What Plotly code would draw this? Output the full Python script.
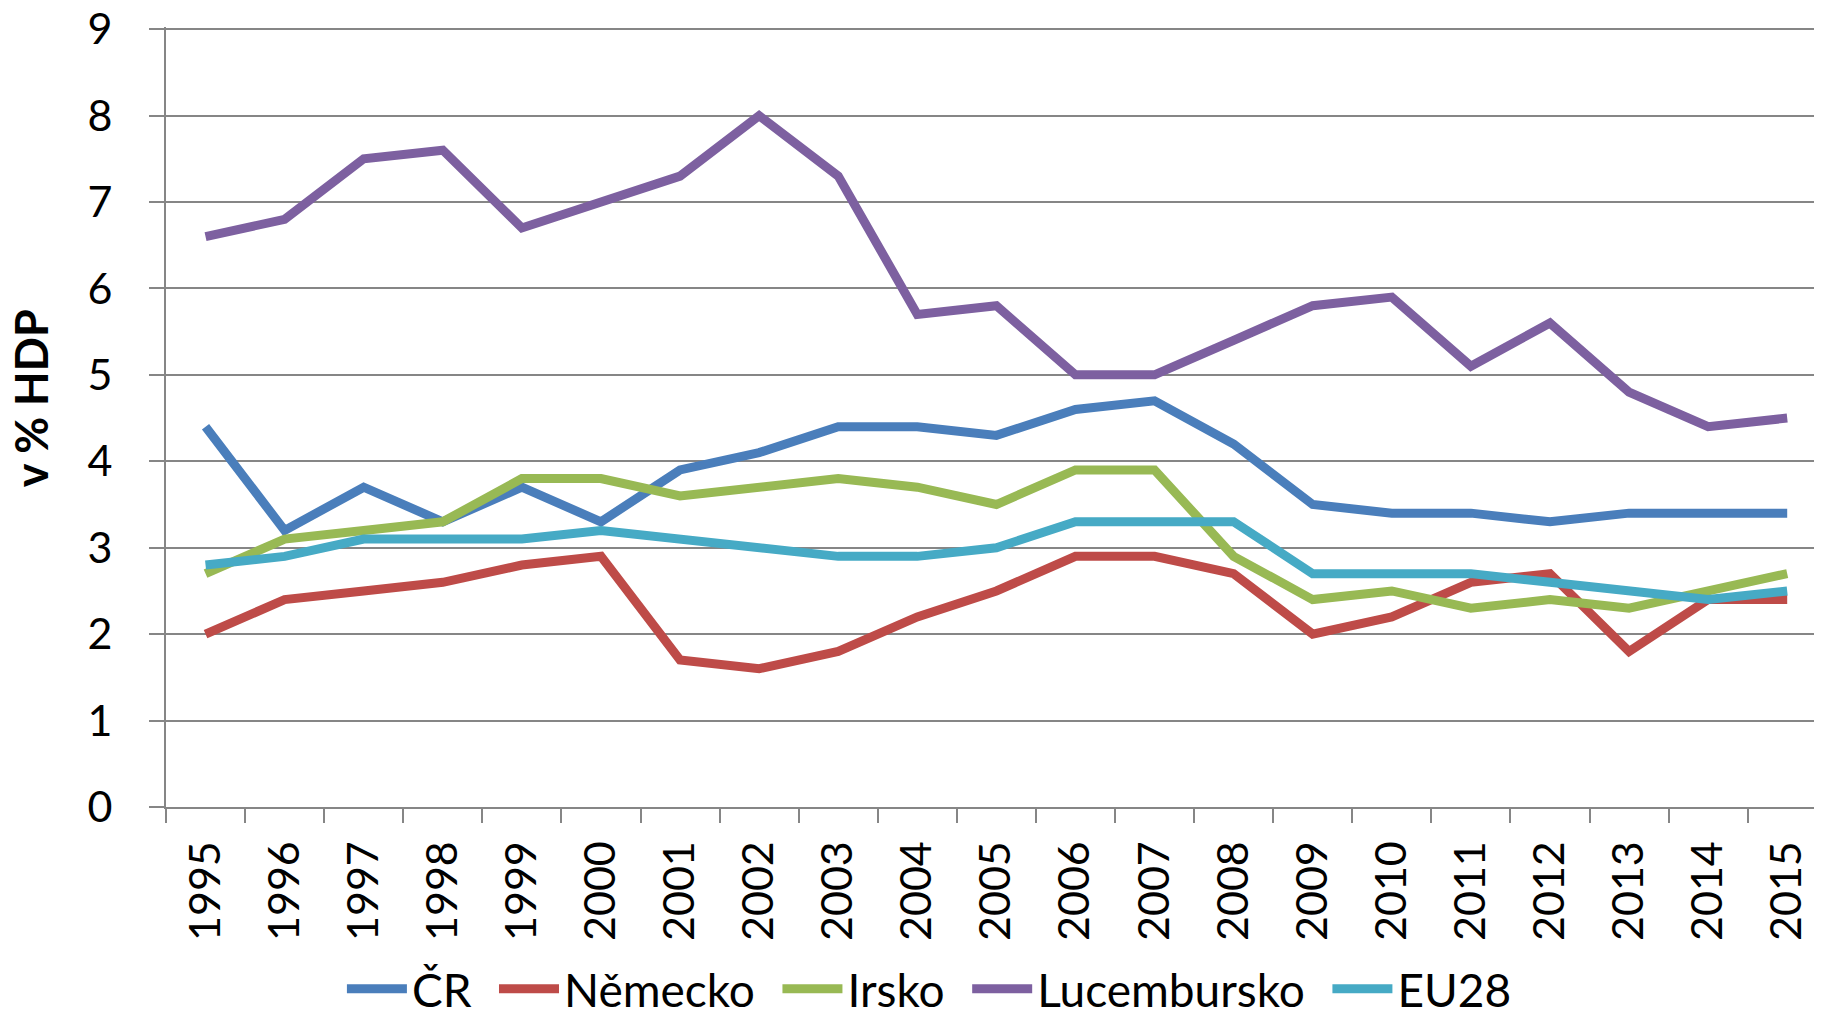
import plotly.graph_objects as go

years = [str(y) for y in range(1995, 2016)]
cr = [4.4, 3.2, 3.7, 3.3, 3.7, 3.3, 3.9, 4.1, 4.4, 4.4, 4.3, 4.6, 4.7, 4.2, 3.5, 3.4, 3.4, 3.3, 3.4, 3.4, 3.4]
nemecko = [2.0, 2.4, 2.5, 2.6, 2.8, 2.9, 1.7, 1.6, 1.8, 2.2, 2.5, 2.9, 2.9, 2.7, 2.0, 2.2, 2.6, 2.7, 1.8, 2.4, 2.4]
irsko = [2.7, 3.1, 3.2, 3.3, 3.8, 3.8, 3.6, 3.7, 3.8, 3.7, 3.5, 3.9, 3.9, 2.9, 2.4, 2.5, 2.3, 2.4, 2.3, 2.5, 2.7]
lucembursko = [6.6, 6.8, 7.5, 7.6, 6.7, 7.0, 7.3, 8.0, 7.3, 5.7, 5.8, 5.0, 5.0, 5.4, 5.8, 5.9, 5.1, 5.6, 4.8, 4.4, 4.5]
eu28 = [2.8, 2.9, 3.1, 3.1, 3.1, 3.2, 3.1, 3.0, 2.9, 2.9, 3.0, 3.3, 3.3, 3.3, 2.7, 2.7, 2.7, 2.6, 2.5, 2.4, 2.5]

names = ["ČR", "Německo", "Irsko", "Lucembursko", "EU28"]
colors = ["#4A7EBB", "#BE4B48", "#98B954", "#7D60A0", "#46AAC5"]
values = [cr, nemecko, irsko, lucembursko, eu28]
y_ticks = [0, 1, 2, 3, 4, 5, 6, 7, 8, 9]

FONT = "Lato"
FS = 43
GRID = "#868686"
PAD = "\u00a0\u2009"

fig = go.Figure()
for i, (name, vals, col) in enumerate(zip(names, values, colors)):
    label = name + (PAD if i < len(names) - 1 else "")
    fig.add_trace(go.Scatter(
        x=years, y=vals, name=label, mode="lines",
        line=dict(color=col, width=9),
    ))

fig.update_layout(
    width=1814, height=1002,
    margin=dict(l=158, r=0, t=19, b=203, autoexpand=False),
    paper_bgcolor="white", plot_bgcolor="white",
    font=dict(family=FONT, size=FS, color="black"),
    showlegend=True,
    legend=dict(
        orientation="h", x=0.461, xanchor="center", y=-0.233, yanchor="middle",
        font=dict(family=FONT, size=46), itemwidth=60,
        bgcolor="rgba(0,0,0,0)",
    ),
    xaxis=dict(
        type="category", range=[-0.5, 20.44],
        showgrid=False, showline=True, linecolor=GRID, linewidth=2,
        ticks="outside", tickson="boundaries", ticklen=14, tickwidth=2, tickcolor=GRID,
        tickangle=-90, tickfont=dict(family=FONT, size=FS),
        ticklabelstandoff=15,
    ),
    yaxis=dict(
        range=[0, 9.025], tickvals=y_ticks,
        showgrid=True, gridcolor=GRID, gridwidth=2,
        showline=True, linecolor=GRID, linewidth=2,
        ticks="outside", ticklen=15, tickwidth=2, tickcolor=GRID,
        tickfont=dict(family=FONT, size=FS),
        ticklabelstandoff=28, zeroline=False, ticklabeloverflow="allow",
    ),
    annotations=[dict(
        text="<b>v % HDP</b>", xref="paper", yref="paper",
        x=-0.0815, y=0.524, xanchor="center", yanchor="middle",
        textangle=-90, showarrow=False, font=dict(family=FONT, size=45),
    )],
)

fig.write_html("out.html")
